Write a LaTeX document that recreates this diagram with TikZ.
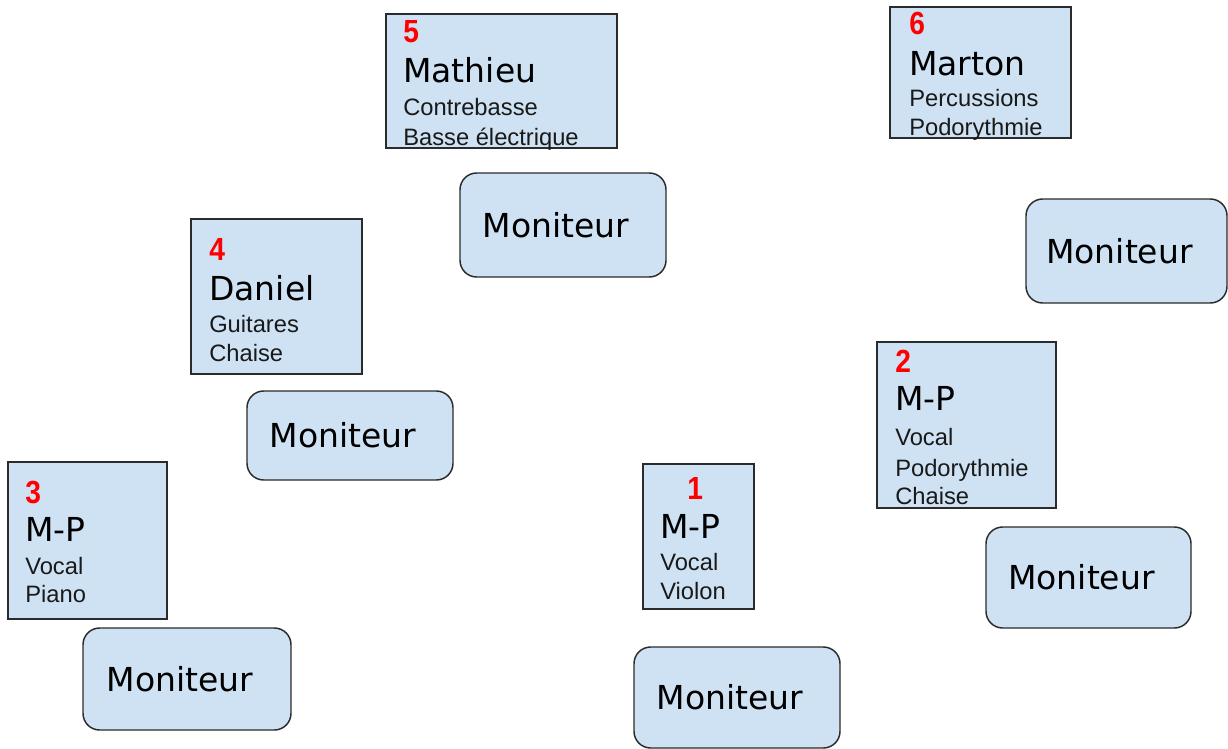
\documentclass[tikz,border=0pt]{standalone}
\usepackage{fontspec}
\setmainfont{Liberation Sans}
\newfontfamily\handfont{DejaVu Sans}
\newfontfamily\numfont{Liberation Sans Bold}[FakeStretch=0.88]
\usetikzlibrary{fit}
\definecolor{boxblue}{HTML}{CFE2F3}
\definecolor{edgegray}{HTML}{2B2B2B}
\definecolor{numred}{HTML}{FF0000}
\begin{document}
\begin{tikzpicture}[x=0.75pt,y=-0.75pt,
  pbox/.style={draw=edgegray, fill=boxblue, line width=1.1pt, rectangle, inner sep=0pt},
  mbox/.style={pbox, rounded corners=12.5pt},
  num/.style={anchor=base west, inner sep=0pt, text=numred, font=\numfont\fontsize{24}{24}\selectfont},
  who/.style={anchor=base west, inner sep=0pt, font=\handfont\fontsize{24.75}{25}\selectfont},
  role/.style={anchor=base west, inner sep=0pt, text=black!90, font=\fontsize{17.8}{18}\selectfont},
  mtext/.style={anchor=base, inner sep=0pt, font=\handfont\fontsize{24.75}{25}\selectfont},
]
\useasboundingbox (0,0) rectangle (1228,749);

% person boxes
\node[pbox, fit={(386,14) (617,148)}] (b5) {};
\node[pbox, fit={(890,7) (1071,138)}] (b6) {};
\node[pbox, fit={(191,219) (362,374)}] (b4) {};
\node[pbox, fit={(877,342) (1056,508)}] (b2) {};
\node[pbox, fit={(8,462) (167,619)}] (b3) {};
\node[pbox, fit={(643,464) (754,609)}] (b1) {};

% monitor boxes
\node[mbox, fit={(460,173) (666,277)}] (m5) {};
\node[mbox, fit={(1026,199) (1227,303)}] (m6) {};
\node[mbox, fit={(247,391) (453,480)}] (m4) {};
\node[mbox, fit={(986,527) (1191,628)}] (m2) {};
\node[mbox, fit={(83,628) (291,730)}] (m3) {};
\node[mbox, fit={(634,647) (840,748)}] (m1) {};

% monitor labels
\foreach \m in {m5,m6,m4,m2,m3,m1}{
  \node[mtext] (\m t) at ([shift={(-7,12)}]\m.center) {Moniteur};
}

% box 5
\node[num]  (n5)  at (403,43)  {5};
\node[who]  (w5)  at (403,83)  {Mathieu};
\node[role] (r5a) at (403,115) {Contrebasse};
\node[role] (r5b) at (403,145) {Basse électrique};

% box 6
\node[num]  (n6)  at (909,35)  {6};
\node[who]  (w6)  at (909,75)  {Marton};
\node[role] (r6a) at (909,107) {Percussions};
\node[role] (r6b) at (909,135) {Podorythmie};

% box 4
\node[num]  (n4)  at (209,260) {4};
\node[who]  (w4)  at (209,300) {Daniel};
\node[role] (r4a) at (209,332) {Guitares};
\node[role] (r4b) at (209,361) {Chaise};

% box 2
\node[num]  (n2)  at (895,372) {2};
\node[who]  (w2)  at (895,410) {M-P};
\node[role] (r2a) at (895,445) {Vocal};
\node[role] (r2b) at (895,476) {Podorythmie};
\node[role] (r2c) at (895,504) {Chaise};

% box 3
\node[num]  (n3)  at (25,503)  {3};
\node[who]  (w3)  at (25,541)  {M-P};
\node[role] (r3a) at (25,574)  {Vocal};
\node[role] (r3b) at (25,602)  {Piano};

% box 1
\node[num]  (n1)  at (687,499) {1};
\node[who]  (w1)  at (660,538) {M-P};
\node[role] (r1a) at (660,570) {Vocal};
\node[role] (r1b) at (660,599) {Violon};
\end{tikzpicture}
\end{document}
